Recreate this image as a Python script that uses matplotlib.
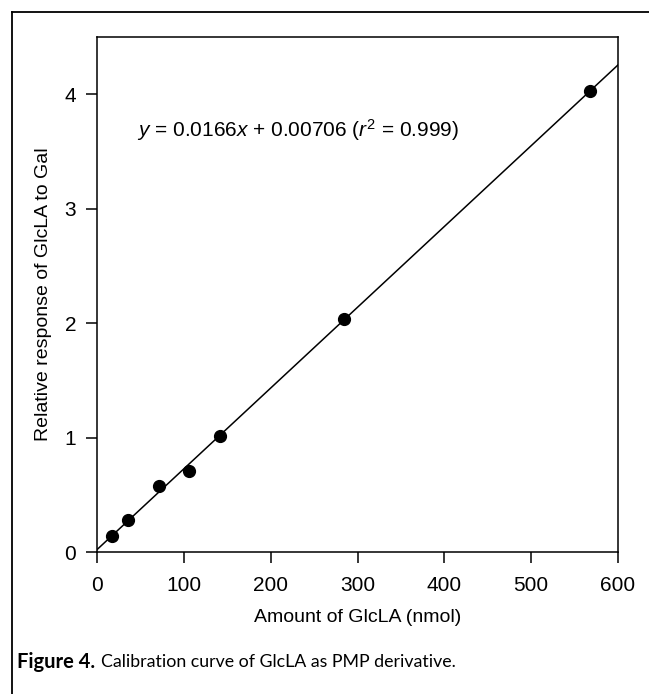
import matplotlib.pyplot as plt
import numpy as np
from matplotlib.lines import Line2D

plt.rcParams['font.family'] = ['Liberation Sans', 'DejaVu Sans']
plt.rcParams['mathtext.fontset'] = 'custom'
plt.rcParams['mathtext.rm'] = 'Liberation Sans'
plt.rcParams['mathtext.it'] = 'Liberation Sans:italic'

# calibration data
amount_nmol = [17.75, 35.5, 71, 106.5, 142, 284, 568]
rel_response = [0.14, 0.28, 0.58, 0.71, 1.01, 2.04, 4.03]
x_ticks = [0, 100, 200, 300, 400, 500, 600]
y_ticks = [0, 1, 2, 3, 4]

fig = plt.figure(figsize=(6.49, 6.94), dpi=100)
ax = fig.add_axes([97/649, 1 - 552/694, (618 - 97)/649, (552 - 37)/694])

# least squares line through the points
slope, intercept = np.polyfit(amount_nmol, rel_response, 1)
xl = np.array([0, 600])
ax.plot(xl, slope*xl + intercept, color='black', lw=1.1)
ax.plot(amount_nmol, rel_response, 'o', color='black', ms=8.5)

ax.set_xlim(0, 600)
ax.set_ylim(0, 4.5)
ax.set_xticks(x_ticks)
ax.set_yticks(y_ticks)
ax.tick_params(direction='out', length=8, width=1.1, labelsize=15)
ax.tick_params(axis='x', pad=9)
ax.tick_params(axis='y', pad=7)
for s in ax.spines.values():
    s.set_linewidth(1.1)

ax.set_xlabel('Amount of GlcLA (nmol)', fontsize=14, labelpad=10)
ax.set_ylabel('Relative response of GlcLA to Gal', fontsize=14, labelpad=9)

ax.text(46, 3.69, r'$y$ = 0.0166$x$ + 0.00706 ($r^2$ = 0.999)', fontsize=15,
        va='center', ha='left')

# frame around the figure (right/bottom edges fall outside the picture)
fig.add_artist(Line2D([12/649, 1.0], [1 - 12/694, 1 - 12/694],
                      transform=fig.transFigure, color='black', lw=1.3))
fig.add_artist(Line2D([12/649, 12/649], [0, 1 - 12/694],
                      transform=fig.transFigure, color='black', lw=1.3))

fig.text(17/649, 1 - 662/694, 'Figure 4.', fontsize=14.5, fontweight='bold',
         family=['Lato', 'DejaVu Sans'], va='center', ha='left')
fig.text(101/649, 1 - 662/694, 'Calibration curve of GlcLA as PMP derivative.',
         fontsize=12.8, family=['Lato', 'DejaVu Sans'], va='center', ha='left')

fig.savefig('out.png', dpi=100)
